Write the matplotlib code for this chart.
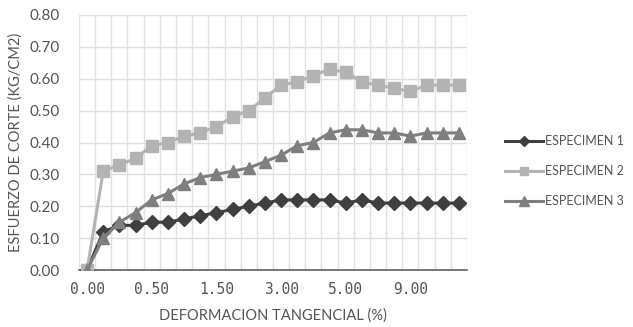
import matplotlib
matplotlib.use("Agg")
import matplotlib.pyplot as plt

# Tangential deformation (%) for each reading
deformacion = ["0.00", "0.10", "0.20", "0.35", "0.50", "0.75", "1.00", "1.25",
               "1.50", "1.75", "2.00", "2.50", "3.00", "3.50", "4.00", "4.50",
               "5.00", "6.00", "7.00", "8.00", "9.00", "10.00", "11.00", "12.00"]

# Shear stress (kg/cm2)
especimen_1 = [0.00, 0.12, 0.14, 0.14, 0.15, 0.15, 0.16, 0.17, 0.18, 0.19, 0.20, 0.21,
               0.22, 0.22, 0.22, 0.22, 0.21, 0.22, 0.21, 0.21, 0.21, 0.21, 0.21, 0.21]
especimen_2 = [0.00, 0.31, 0.33, 0.35, 0.39, 0.40, 0.42, 0.43, 0.45, 0.48, 0.50, 0.54,
               0.58, 0.59, 0.61, 0.63, 0.62, 0.59, 0.58, 0.57, 0.56, 0.58, 0.58, 0.58]
especimen_3 = [0.00, 0.10, 0.15, 0.18, 0.22, 0.24, 0.27, 0.29, 0.30, 0.31, 0.32, 0.34,
               0.36, 0.39, 0.40, 0.43, 0.44, 0.44, 0.43, 0.43, 0.42, 0.43, 0.43, 0.43]

series_names = ["ESPECIMEN 1", "ESPECIMEN 2", "ESPECIMEN 3"]
yticks = [0.0, 0.1, 0.2, 0.3, 0.4, 0.5, 0.6, 0.7, 0.8]
label_step = 4

fig = plt.figure(figsize=(6.33, 3.27), dpi=100)
ax = fig.add_axes([79 / 633, 1 - 270 / 327, (467 - 79) / 633, (270 - 15) / 327])

x = list(range(len(deformacion)))
styles = [
    dict(color="#3f3f3f", marker="D", markersize=7),
    dict(color="#b3b3b3", marker="s", markersize=8.5),
    dict(color="#7f7f7f", marker="^", markersize=9),
]
for vals, name, st in zip([especimen_1, especimen_2, especimen_3], series_names, styles):
    ax.plot(x, vals, color=st["color"], marker=st["marker"], markersize=st["markersize"],
            markerfacecolor=st["color"], markeredgecolor=st["color"], linewidth=2.2,
            label=name, zorder=3)

ax.set_xlim(-0.5, len(deformacion) - 0.5)
ax.set_ylim(0, 0.8)

# Vertical grid lines between categories
for k in range(len(deformacion) + 1):
    ax.axvline(k - 0.5, color="#e2e2e2", linewidth=1.0, zorder=0)
ax.set_yticks(yticks)
ax.yaxis.grid(True, color="#dedede", linewidth=1.0, zorder=0)
ax.set_axisbelow(True)

tick_pos = x[::label_step]
ax.set_xticks(tick_pos)
ax.set_xticklabels([deformacion[i] for i in tick_pos], family="DejaVu Sans Mono",
                   fontsize=10.5, color="#555555")
ax.set_yticklabels([f"{v:.2f}" for v in yticks], family="Lato", fontsize=11,
                   color="#555555")
ax.tick_params(axis="both", length=0)
ax.tick_params(axis="x", pad=9)
ax.tick_params(axis="y", pad=14)

for side in ["top", "right", "left"]:
    ax.spines[side].set_visible(False)
ax.spines["bottom"].set_color("#606060")
ax.spines["bottom"].set_linewidth(1.2)

ax.set_xlabel("DEFORMACION TANGENCIAL (%)", family="Lato", fontsize=10.5,
              color="#555555", labelpad=8)
ax.set_ylabel("ESFUERZO DE CORTE (KG/CM2)", family="Lato", fontsize=10.5,
              color="#555555", labelpad=5)

leg = fig.legend(*ax.get_legend_handles_labels(), loc="center left",
                 bbox_to_anchor=(494 / 633, 1 - 171 / 327), bbox_transform=fig.transFigure,
                 frameon=False, prop={"family": "Lato", "size": 9}, labelspacing=1.45,
                 handlelength=3.0, handletextpad=0.2, markerscale=0.75)
for t in leg.get_texts():
    t.set_color("#555555")

fig.savefig("out.png", dpi=100)
